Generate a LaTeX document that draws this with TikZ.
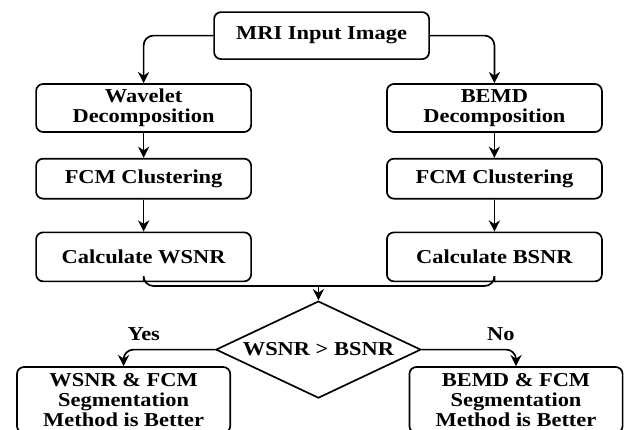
\documentclass[tikz,border=0pt]{standalone}
\usepackage{fontspec}
\setmainfont{Liberation Serif}[FakeStretch=1.14]
\usetikzlibrary{positioning,arrows.meta,shapes.geometric}

\begin{document}
\begin{tikzpicture}[
    stepbox/.style={rectangle, draw=black, line width=1.2pt, rounded corners=5pt,
                 minimum width=5.375cm, minimum height=1.2cm,
                 align=center, font=\fontsize{14}{14.5}\selectfont\bfseries},
    decision/.style={diamond, draw=black, line width=1.2pt, aspect=2.1, inner sep=0pt,
                 minimum width=5.125cm, minimum height=2.425cm,
                 font=\fontsize{14}{14.5}\selectfont\bfseries},
    lbl/.style={inner sep=0pt, font=\fontsize{14}{14.5}\selectfont\bfseries},
    arrow/.style={-{Stealth[length=2.8mm,width=2.8mm]}, line width=1.2pt, rounded corners=7pt},
    line/.style={line width=1.2pt, rounded corners=7pt}
]
    \useasboundingbox (0,0) rectangle (15.8,-10.75);
    \node[stepbox, minimum height=1.175cm] (mri) at (8.04,-0.89) {MRI Input Image};
    \node[stepbox] (wave) at (3.59,-2.7) {Wavelet\\Decomposition};
    \node[stepbox] (bemd) at (12.36,-2.7) {BEMD\\Decomposition};
    \node[stepbox, minimum height=1cm, below=0.625cm of wave] (fcmw) {FCM Clustering};
    \node[stepbox, minimum height=1cm, below=0.625cm of bemd] (fcmb) {FCM Clustering};
    \node[stepbox, minimum height=1.225cm, below=0.8cm of fcmw] (wsnr) {Calculate WSNR};
    \node[stepbox, minimum height=1.225cm, below=0.8cm of fcmb] (bsnr) {Calculate BSNR};
    \node[decision] (cmp) at (7.96,-8.74) {WSNR > BSNR};
    \node[stepbox, minimum width=5.33cm, minimum height=1.65cm] (resw) at (3.09,-10.0)
        {WSNR \& FCM\\Segmentation\\Method is Better};
    \node[stepbox, minimum width=5.33cm, minimum height=1.65cm] (resb) at (12.9,-10.0)
        {BEMD \& FCM\\Segmentation\\Method is Better};
    \draw[arrow] (mri.west) -| (wave.north);
    \draw[arrow] (mri.east) -| (bemd.north);
    \draw[arrow] (wave) -- (fcmw);
    \draw[arrow] (bemd) -- (fcmb);
    \draw[arrow] (fcmw) -- (wsnr);
    \draw[arrow] (fcmb) -- (bsnr);
    \coordinate (join) at (cmp.north |- 0,-7.15);
    \draw[line] (wsnr.south) |- (join) -| (bsnr.south);
    \draw[arrow] (join) -- (cmp.north);
    \draw[arrow] (cmp.west) -| node[lbl, pos=0.39, above=2mm] {Yes} (resw.north);
    \draw[arrow] (cmp.east) -| node[lbl, pos=0.42, above=2mm] {No} (resb.north);
\end{tikzpicture}
\end{document}
